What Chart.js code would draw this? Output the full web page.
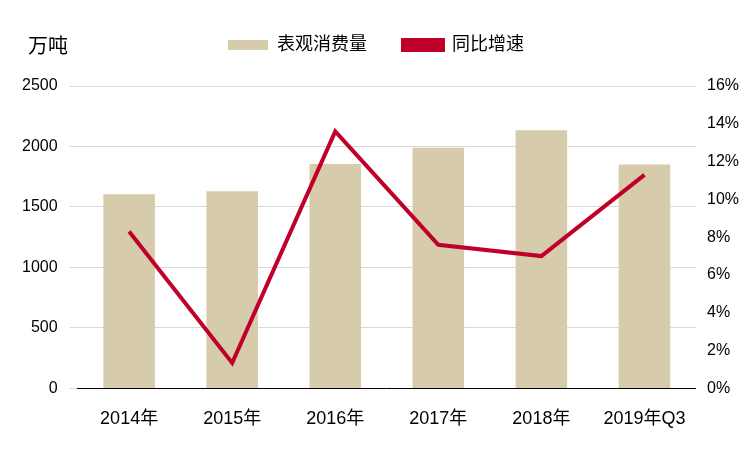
<!DOCTYPE html>
<html><head><meta charset="utf-8">
<script src="https://cdn.jsdelivr.net/npm/chart.js@4/dist/chart.umd.min.js"></script>
<style>body{margin:0;background:#fff}#w{width:750px;height:450px}</style>
</head><body><div id="w"><canvas id="c"></canvas></div>
<script>
const categories = ["2014年","2015年","2016年","2017年","2018年","2019年Q3"];
const consumption = [1605,1630,1855,1990,2135,1850];
const growth = [8.3,1.35,13.6,7.6,7.0,11.3];
const F = "'Liberation Sans','Noto Sans CJK SC',sans-serif";
const unitPlugin = {id:'unit',
  beforeInit(ch){const fit=ch.legend.fit;ch.legend.fit=function(){fit.call(this);this.height=86;};},
  afterDraw(ch){const c=ch.ctx;c.save();c.font="20px "+F;c.fillStyle="#000";c.textBaseline="middle";c.fillText("万吨",28,47);c.restore();}};
new Chart(document.getElementById('c'),{
  data:{labels:categories,datasets:[
    {type:'line',label:'同比增速',data:growth,yAxisID:'y2',borderColor:'#C0002A',backgroundColor:'#C0002A',borderWidth:4,pointRadius:0,tension:0,order:0},
    {type:'bar',label:'表观消费量',data:consumption,yAxisID:'y',backgroundColor:'#D6CBAA',barPercentage:0.5,categoryPercentage:1,order:1}
  ]},
  options:{responsive:true,maintainAspectRatio:false,animation:false,
    layout:{padding:{left:10,right:8,top:0,bottom:8}},
    plugins:{legend:{reverse:true,labels:{font:{family:F,size:18},color:'#000',boxWidth:40,boxHeight:10,padding:36}},tooltip:{enabled:false}},
    scales:{
      x:{grid:{display:false},border:{color:'#000'},ticks:{padding:12,font:{family:F,size:18},color:'#000'}},
      y:{min:0,max:2500,ticks:{stepSize:500,padding:12,callback:v=>String(v),font:{family:F,size:16},color:'#000'},grid:{color:'#d9d9d9'},border:{display:false}},
      y2:{position:'right',min:0,max:16,ticks:{stepSize:2,callback:v=>v+'%',font:{family:F,size:16},color:'#000'},grid:{display:false},border:{display:false}}
    }},
  plugins:[unitPlugin]
});
</script></body></html>
